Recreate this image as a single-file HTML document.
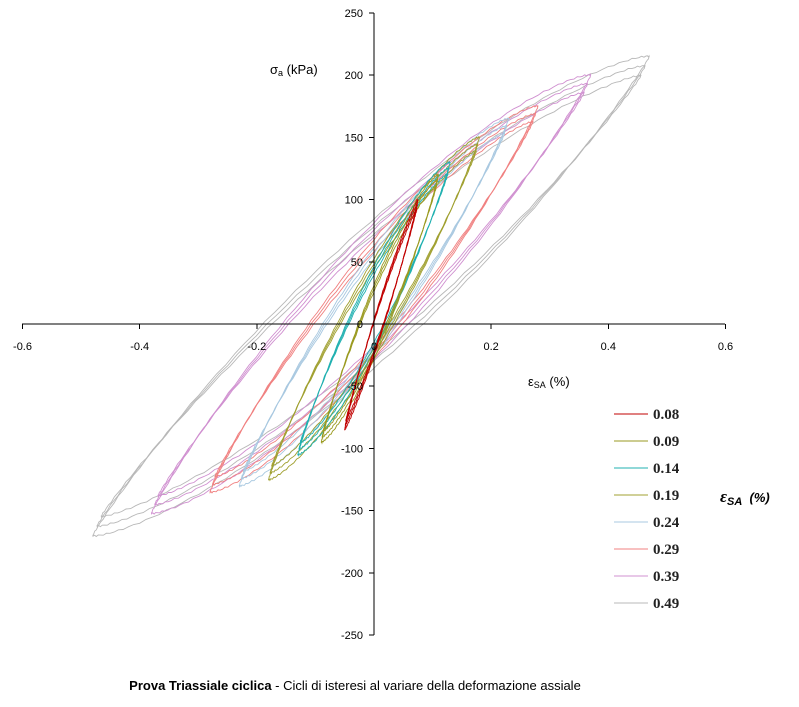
<!DOCTYPE html>
<html><head><meta charset="utf-8"><style>
body{margin:0;background:#fff;}
svg{display:block;font-family:"Liberation Sans",Arial,sans-serif;}
</style></head><body>
<svg id="s" width="799" height="707" viewBox="0 0 799 707">
<g id="loops" fill="none" stroke-width="0.9"></g>
<g stroke="#000" stroke-width="1" shape-rendering="crispEdges">
<line x1="374" y1="13" x2="374" y2="635"/>
<line x1="22" y1="324" x2="725" y2="324"/>
</g>
<g id="ticks" stroke="#000" stroke-width="1" shape-rendering="crispEdges"></g>
<g id="lab" font-size="11" fill="#000"></g>
<text x="270" y="74" font-size="13">σ<tspan font-size="9" dy="2">a</tspan><tspan dy="-2"> (kPa)</tspan></text>
<text x="528" y="386" font-size="13">ε<tspan font-size="9" dy="2">SA</tspan><tspan dy="-2"> (%)</tspan></text>
<g id="leg" font-family="'Liberation Serif',serif" font-size="15" font-weight="bold" fill="#222"></g>
<text x="720" y="502" font-family="'Liberation Serif',serif" font-size="17" font-weight="bold" font-style="italic">ε<tspan font-size="11" font-family="'Liberation Sans',sans-serif" dy="3">SA</tspan><tspan dy="-3" font-size="13" font-family="'Liberation Sans',sans-serif"> &#160;(%)</tspan></text>
<text x="355" y="690" font-size="13" text-anchor="middle"><tspan font-weight="bold">Prova Triassiale ciclica</tspan> - Cicli di isteresi al variare della deformazione assiale</text>
</svg>
<script>
var NS="http://www.w3.org/2000/svg";
function X(v){return 374+v*585.8;}function Y(v){return 324-v*1.244;}
function el(p,t,a,txt){var e=document.createElementNS(NS,t);for(var k in a)e.setAttribute(k,a[k]);if(txt!=null)e.textContent=txt;p.appendChild(e);return e;}
var tk=document.getElementById('ticks'),lb=document.getElementById('lab');
for(var v=-250;v<=250;v+=50){var y=Y(v);el(tk,'line',{x1:369,y1:y,x2:374,y2:y});el(lb,'text',{x:363,y:y+4,'text-anchor':'end'},String(v));}
[-0.6,-0.4,-0.2,0,0.2,0.4,0.6].forEach(function(v){var x=X(v);el(tk,'line',{x1:x,y1:324,x2:x,y2:329});el(lb,'text',{x:x,y:350,'text-anchor':'middle'},String(v));});
var L=[["#c00000",-0.05,0.075,-85,100,15,"0.08"],["#9a9a20",-0.09,0.11,-95,120,30,"0.09"],["#20b0b0",-0.13,0.13,-105,130,34,"0.14"],["#a0a030",-0.18,0.18,-125,150,40,"0.19"],["#a8c8e0",-0.23,0.23,-130,165,44,"0.24"],["#f08080",-0.28,0.28,-135,175,48,"0.29"],["#d090d0",-0.38,0.37,-152,200,55,"0.39"],["#b8b8b8",-0.48,0.47,-170,215,60,"0.49"]];
var g=document.getElementById('loops'),lg=document.getElementById('leg');
L.slice().reverse().forEach(function(p){
 for(var c=0;c<3;c++){var d="",s=1-c*0.04,xc=(p[1]+p[2])/2,ex=(p[2]-p[1])/2*(1-c*0.015),yc=(p[3]+p[4])/2,A=(p[4]-p[3])/2*s,B=p[5]*(1-c*0.1);
  for(var i=0;i<=160;i++){var t=i/160*2*Math.PI,ct=Math.cos(t),st=Math.sin(t);
   var x=xc+ex*ct,y=yc+A*ct+B*st*Math.pow(Math.abs(st),0.7)+Math.sin(i*2.3)*0.6;
   d+=(i?"L":"M")+X(x).toFixed(1)+" "+Y(y).toFixed(1);}
  el(g,'path',{d:d,stroke:p[0]});}
});
L.forEach(function(p,i){var y=414+i*27;el(lg,'line',{x1:614,y1:y,x2:648,y2:y,stroke:p[0],'stroke-width':1});el(lg,'text',{x:653,y:y+5},p[6]);});
</script>
</body></html>
